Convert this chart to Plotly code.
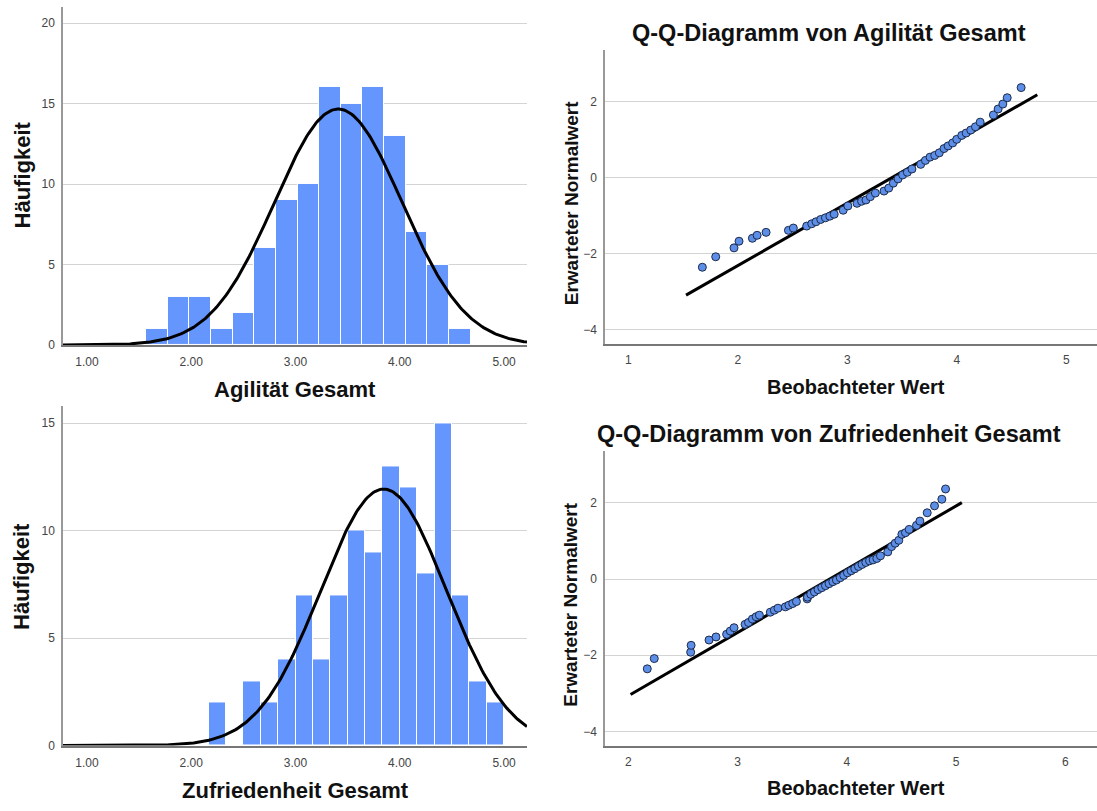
import numpy as np
import plotly.graph_objects as go

W, H = 1097, 811

# ---- Agilität Gesamt: histogram bins and counts ----
agil_bin_start = 1.567
agil_bin_width = 0.2075
agil_counts = [1, 3, 3, 1, 2, 6, 9, 10, 16, 15, 16, 13, 7, 5, 1]
agil_n = 108
agil_mean = 3.41
agil_sd = 0.61

# ---- Zufriedenheit Gesamt: histogram bins and counts ----
zuf_bin_start = 2.1667
zuf_bin_width = 1 / 6
zuf_counts = [2, 0, 3, 2, 4, 7, 4, 7, 10, 9, 13, 12, 8, 15, 7, 3, 2]
zuf_n = 108
zuf_mean = 3.845
zuf_sd = 0.602

# ---- Q-Q points (observed value, expected normal value) ----
agil_qq_obs = [1.676, 1.798, 1.965, 2.011, 2.133, 2.176, 2.258, 2.462, 2.507, 2.629,
               2.675, 2.714, 2.757, 2.800, 2.840, 2.880, 2.962, 3.005, 3.088, 3.130,
               3.170, 3.210, 3.256, 3.335, 3.378, 3.420, 3.463, 3.505, 3.548, 3.590,
               3.670, 3.713, 3.755, 3.798, 3.840, 3.883, 3.920, 3.962, 3.999, 4.045,
               4.085, 4.127, 4.170, 4.213, 4.334, 4.377, 4.420, 4.460, 4.587]
agil_qq_exp = [-2.355, -2.080, -1.846, -1.672, -1.594, -1.516, -1.438, -1.386, -1.326, -1.274,
               -1.213, -1.161, -1.100, -1.057, -1.014, -0.963, -0.858, -0.745, -0.676, -0.623,
               -0.589, -0.502, -0.407, -0.355, -0.277, -0.147, -0.035, 0.068, 0.138, 0.224,
               0.346, 0.450, 0.536, 0.580, 0.649, 0.761, 0.830, 0.908, 1.003, 1.107,
               1.168, 1.246, 1.333, 1.454, 1.644, 1.800, 1.930, 2.095, 2.362]

zuf_qq_obs = [2.174, 2.238, 2.571, 2.575, 2.739, 2.803, 2.900, 2.934, 2.968, 3.069,
              3.100, 3.136, 3.170, 3.200, 3.300, 3.337, 3.370, 3.438, 3.470, 3.505,
              3.539, 3.637, 3.640, 3.670, 3.704, 3.737, 3.771, 3.805, 3.838, 3.872,
              3.905, 3.940, 3.972, 4.006, 4.040, 4.073, 4.107, 4.140, 4.174, 4.208,
              4.241, 4.275, 4.308, 4.375, 4.410, 4.443, 4.476, 4.504, 4.537, 4.571,
              4.638, 4.669, 4.736, 4.803, 4.870, 4.904]
zuf_qq_exp = [-2.357, -2.087, -1.920, -1.740, -1.600, -1.520, -1.450, -1.365, -1.278, -1.190,
              -1.140, -1.050, -0.990, -0.948, -0.870, -0.817, -0.765, -0.730, -0.687, -0.643,
              -0.591, -0.520, -0.475, -0.400, -0.339, -0.278, -0.226, -0.174, -0.122, -0.070,
              -0.026, 0.035, 0.096, 0.165, 0.217, 0.270, 0.330, 0.383, 0.435, 0.478,
              0.504, 0.540, 0.610, 0.713, 0.852, 0.940, 1.017, 1.174, 1.217, 1.304,
              1.409, 1.522, 1.740, 1.922, 2.096, 2.365]

# reference line extents (observed scale)
agil_line_x = [1.527, 4.735]
zuf_line_x = [2.021, 5.053]

hist_xticks = [1, 2, 3, 4, 5]
hist_xticklabels = ["1.00", "2.00", "3.00", "4.00", "5.00"]

BAR_COLOR = "#6596fd"
PT_COLOR = "#5d8fe8"
FONT = "Liberation Sans, Arial, sans-serif"


def px_x(x):
    return x / W


def px_y(y):
    return 1 - y / H


fig = go.Figure()


def add_hist(start, width, counts, n, mean, sd, xa, ya):
    centers = [start + width * (i + 0.5) for i in range(len(counts))]
    fig.add_trace(go.Bar(x=centers, y=counts, width=[width] * len(counts),
                         marker=dict(color=BAR_COLOR, line=dict(color="white", width=1)),
                         xaxis=xa, yaxis=ya, showlegend=False, hoverinfo="x+y"))
    xs = np.linspace(0.77, 5.22, 300)
    ys = n * width / (sd * np.sqrt(2 * np.pi)) * np.exp(-0.5 * ((xs - mean) / sd) ** 2)
    fig.add_trace(go.Scatter(x=xs, y=ys, mode="lines", line=dict(color="black", width=3),
                             xaxis=xa, yaxis=ya, showlegend=False, hoverinfo="skip"))


def add_qq(obs, exp, line_x, mean, sd, xa, ya):
    lz = [(v - mean) / sd for v in line_x]
    fig.add_trace(go.Scatter(x=line_x, y=lz, mode="lines", line=dict(color="black", width=3),
                             xaxis=xa, yaxis=ya, showlegend=False, hoverinfo="skip"))
    fig.add_trace(go.Scatter(x=obs, y=exp, mode="markers",
                             marker=dict(color=PT_COLOR, size=8,
                                         line=dict(color="#1d2b4a", width=1)),
                             xaxis=xa, yaxis=ya, showlegend=False))


add_hist(agil_bin_start, agil_bin_width, agil_counts, agil_n, agil_mean, agil_sd, "x", "y")
add_hist(zuf_bin_start, zuf_bin_width, zuf_counts, zuf_n, zuf_mean, zuf_sd, "x3", "y3")
add_qq(agil_qq_obs, agil_qq_exp, agil_line_x, agil_mean, agil_sd, "x2", "y2")
add_qq(zuf_qq_obs, zuf_qq_exp, zuf_line_x, zuf_mean, zuf_sd, "x4", "y4")

tickfont = dict(family=FONT, size=12, color="#444444")
grid = "#d4d4d4"

hist_x = dict(range=[0.77, 5.22], tickvals=hist_xticks, ticktext=hist_xticklabels,
              showgrid=False, zeroline=False, showline=True, linecolor="#777777", linewidth=1.5,
              ticks="", tickfont=tickfont, ticklabelstandoff=5, fixedrange=True)
qq_y = dict(range=[-4.37, 3.36], tickvals=[-4, -2, 0, 2], showgrid=True, gridcolor=grid,
            gridwidth=1.2, zeroline=False, showline=True, linecolor="#999999", linewidth=1.5,
            ticks="", tickfont=tickfont, ticklabelstandoff=4, fixedrange=True)
qq_x = dict(showgrid=False, zeroline=False, showline=True, linecolor="#777777",
            linewidth=1.5, ticks="", tickfont=tickfont, dtick=1, ticklabelstandoff=4,
            fixedrange=True)
hist_y = dict(showgrid=True, gridcolor=grid, gridwidth=1.2, zeroline=False, showline=True,
              linecolor="#999999", linewidth=1.5, ticks="", tickfont=tickfont,
              ticklabelstandoff=4, fixedrange=True)

fig.update_layout(
    width=W, height=H,
    margin=dict(l=0, r=0, t=0, b=0),
    paper_bgcolor="white", plot_bgcolor="white",
    font=dict(family=FONT, color="#222222"),
    bargap=0,
    xaxis=dict(domain=[px_x(63), px_x(527)], anchor="y", **hist_x),
    yaxis=dict(domain=[px_y(348), px_y(7)], anchor="x", range=[0, 21.0],
               tickvals=[0, 5, 10, 15, 20], **hist_y),
    xaxis3=dict(domain=[px_x(63), px_x(527)], anchor="y3", **hist_x),
    yaxis3=dict(domain=[px_y(752), px_y(410)], anchor="x3", range=[0, 15.77],
                tickvals=[0, 5, 10, 15], **hist_y),
    xaxis2=dict(domain=[px_x(605), 1.0], anchor="y2", range=[0.787, 5.28], **qq_x),
    yaxis2=dict(domain=[px_y(347), px_y(50)], anchor="x2", **qq_y),
    xaxis4=dict(domain=[px_x(605), 1.0], anchor="y4", range=[1.787, 6.29], **qq_x),
    yaxis4=dict(domain=[px_y(752), px_y(455)], anchor="x4", **qq_y),
)

ann = []


def label(text, x, y, size, angle=0):
    ann.append(dict(text=f"<b>{text}</b>", x=px_x(x), y=px_y(y), xref="paper", yref="paper",
                    showarrow=False, textangle=angle, xanchor="center", yanchor="middle",
                    font=dict(family=FONT, size=size, color="#111111")))


label("Häufigkeit", 22, 177, 22, -90)
label("Häufigkeit", 22, 582, 22, -90)
label("Agilität Gesamt", 295, 393, 22)
label("Zufriedenheit Gesamt", 295, 797, 22)
label("Q-Q-Diagramm von Agilität Gesamt", 829, 33, 23.5)
label("Q-Q-Diagramm von Zufriedenheit Gesamt", 829, 438, 23.5)
label("Erwarteter Normalwert", 571, 205, 19, -90)
label("Erwarteter Normalwert", 571, 610, 19, -90)
label("Beobachteter Wert", 856, 390, 20)
label("Beobachteter Wert", 856, 795, 20)

fig.update_layout(annotations=ann)

fig.write_html("out.html")
